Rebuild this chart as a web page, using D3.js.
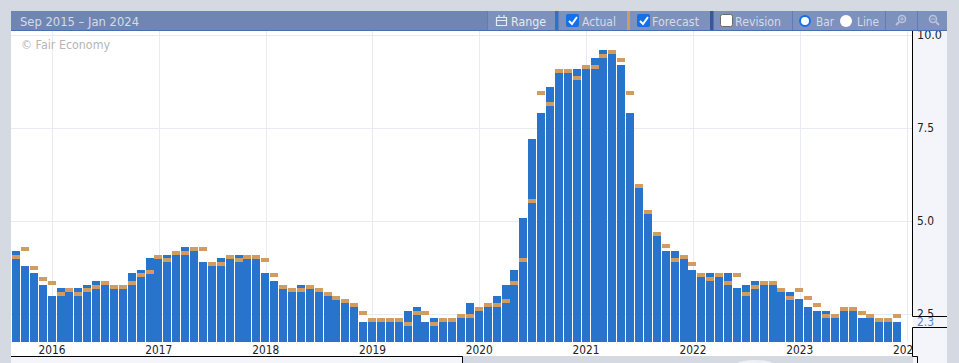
<!DOCTYPE html>
<html>
<head>
<meta charset="utf-8">
<script src="https://cdn.jsdelivr.net/npm/d3@7"></script>
<style>
  html, body { margin: 0; padding: 0; background: #d5d9e2; overflow: hidden; }
  svg { display: block; }
  text { font-family: "DejaVu Sans", sans-serif; font-size: 12px; }
</style>
</head>
<body>
<div id="chart"></div>
<script>
// monthly values, Sep 2015 to Dec 2023
const actual = [4.2,3.8,3.6,3.3,3.0,3.2,3.1,3.2,3.3,3.4,3.3,3.2,3.2,3.6,3.7,4.0,
  4.0,4.1,4.1,4.3,4.2,3.9,3.8,4.0,4.0,4.1,4.0,4.0,3.6,3.4,3.2,3.1,3.3,3.2,3.1,3.0,
  2.9,2.8,2.7,2.3,2.3,2.3,2.3,2.3,2.6,2.7,2.3,2.4,2.3,2.3,2.4,2.8,
  2.6,2.7,3.0,3.3,3.7,5.1,7.2,7.9,8.6,9.0,9.0,9.1,9.1,9.4,9.6,9.5,9.2,7.9,5.9,5.2,
  4.6,4.2,4.2,4.0,3.7,3.5,3.6,3.5,3.6,3.2,3.3,3.4,3.3,3.3,3.1,3.1,2.9,2.7,2.6,2.6,
  2.4,2.6,2.6,2.4,2.4,2.3,2.3,2.3];
const forecast = [4.1,4.3,3.8,3.5,3.4,3.1,3.2,3.1,3.2,3.3,3.4,3.3,3.3,3.4,3.6,3.7,
  4.1,4.0,4.2,4.2,4.3,4.3,3.9,3.9,4.1,4.0,4.1,4.1,4.0,3.6,3.3,3.2,3.2,3.3,3.2,3.1,
  3.0,2.9,2.8,2.6,2.4,2.4,2.4,2.4,2.3,2.6,2.6,2.3,2.4,2.4,2.5,2.5,
  2.7,2.8,2.8,2.9,3.4,4.0,5.6,8.5,8.2,9.1,9.1,8.9,9.2,9.2,9.5,9.6,9.4,8.5,6.0,5.3,
  4.7,4.4,4.0,4.1,3.9,3.6,3.5,3.6,3.4,3.6,3.1,3.3,3.4,3.4,3.2,3.0,3.2,3.0,2.8,2.5,
  2.5,2.7,2.7,2.6,2.5,2.4,2.4,2.5];
const yearLabels = [2016,2017,2018,2019,2020,2021,2022,2023,2024];
const yTicks = [10,7.5,5,2.5];
const latest = 2.3;
const months = d3.utcMonth.range(new Date(Date.UTC(2015,8,1)), new Date(Date.UTC(2024,1,1)));

const width = 959, height = 363;
const blue = "#2874cc", orange = "#d29b5f", grid = "#e8ebf3", panel = "#f3f5fa";

const x = d3.scaleBand().domain(months.map(d => +d)).range([12, 911]);
const y = d3.scaleLinear().domain([1.755, 10]).range([342, 35.3]);
const xc = d => x(+d) + x.bandwidth() / 2;

const svg = d3.select("#chart").append("svg").attr("width", width).attr("height", height);

// page frame
svg.append("rect").attr("width", width).attr("height", height).attr("fill", "#d5d9e2");
svg.append("rect").attr("x", 11).attr("y", 11).attr("width", 902).attr("height", 345).attr("fill", "white");
svg.append("rect").attr("x", 913).attr("y", 31).attr("width", 34).attr("height", 332).attr("fill", panel);
svg.append("rect").attr("x", 11).attr("y", 357).attr("width", 451).attr("height", 6).attr("fill", panel);
svg.append("ellipse").attr("cx", 755).attr("cy", 364).attr("rx", 18).attr("ry", 4).attr("fill", "#eef0f5");

svg.append("defs").append("clipPath").attr("id", "plot")
  .append("rect").attr("x", 11).attr("y", 31).attr("width", 901).attr("height", 325);

const plot = svg.append("g").attr("clip-path", "url(#plot)");

// grid
plot.append("g").selectAll("line").data(yTicks).join("line")
  .attr("x1", 11).attr("x2", 912)
  .attr("y1", d => Math.round(y(d)) + 0.5).attr("y2", d => Math.round(y(d)) + 0.5)
  .attr("stroke", grid);
const janDates = yearLabels.map(yr => new Date(Date.UTC(yr, 0, 1)));
plot.append("g").selectAll("line").data(janDates).join("line")
  .attr("x1", d => Math.round(xc(d)) + 0.5).attr("x2", d => Math.round(xc(d)) + 0.5)
  .attr("y1", 31).attr("y2", 342)
  .attr("stroke", grid);

// bars
plot.append("g").selectAll("rect").data(actual).join("rect")
  .attr("x", (d, i) => Math.round(x(+months[i])))
  .attr("width", 8)
  .attr("y", d => Math.round(y(d)))
  .attr("height", d => 342 - Math.round(y(d)))
  .attr("fill", blue);

plot.append("g").selectAll("rect").data(forecast).join("rect")
  .attr("x", (d, i) => Math.round(x(+months[i])))
  .attr("width", 8)
  .attr("y", d => Math.round(y(d)))
  .attr("height", 4)
  .attr("fill", orange);

// year labels
plot.append("g").selectAll("text").data(janDates).join("text")
  .attr("x", d => xc(d) - 13.5).attr("y", 353.5)
  .attr("textLength", 27).attr("lengthAdjust", "spacingAndGlyphs")
  .attr("fill", "#222")
  .text((d, i) => yearLabels[i]);

plot.append("text").attr("x", 21).attr("y", 48.5).attr("fill", "#b5b5b5")
  .attr("textLength", 89).attr("lengthAdjust", "spacingAndGlyphs").text("© Fair Economy");

// right axis
const axis = svg.append("g");
axis.selectAll("text.tick").data(yTicks).join("text")
  .attr("class", "tick")
  .attr("x", 917).attr("y", d => y(d) + 4)
  .attr("textLength", d => d === 10 ? 25 : 17).attr("lengthAdjust", "spacingAndGlyphs")
  .attr("fill", "#222")
  .text(d => d.toFixed(1));
axis.append("rect").attr("x", 913).attr("y", 317).attr("width", 34).attr("height", 10).attr("fill", panel);
axis.append("text").attr("x", 917).attr("y", y(latest) + 4.5)
  .attr("textLength", 17).attr("lengthAdjust", "spacingAndGlyphs")
  .attr("fill", "#4a86d8").text(latest.toFixed(1));
axis.append("path")
  .attr("fill", "none").attr("stroke", "black")
  .attr("d", "M912.5,31V316.5H947M947,327.5H912.5V356.5H917.5V363M11,356.5H462.5V363");

// header bar
const head = svg.append("g");
head.append("rect").attr("x", 11).attr("y", 11).attr("width", 936).attr("height", 19).attr("fill", "#7086b2");
head.append("rect").attr("x", 487).attr("y", 11).attr("width", 460).attr("height", 19).attr("fill", "#7c91bc");
head.append("rect").attr("x", 11).attr("y", 30).attr("width", 936).attr("height", 1).attr("fill", "#4a6fb0");
head.append("text").attr("x", 20).attr("y", 25.5).attr("fill", "#d5dbe8")
  .attr("textLength", 119).attr("lengthAdjust", "spacingAndGlyphs").text("Sep 2015 – Jan 2024");

const seps = [487, 792, 885, 917];
head.selectAll("line.sep").data(seps).join("line")
  .attr("class", "sep")
  .attr("x1", d => d + 0.5).attr("x2", d => d + 0.5).attr("y1", 11).attr("y2", 30)
  .attr("stroke", "#5f7cb4");

const swatches = [[555, blue], [627, orange], [710, "#37599a"]];
head.selectAll("rect.sw").data(swatches).join("rect")
  .attr("class", "sw")
  .attr("x", d => d[0]).attr("y", 11).attr("width", d => d[1] === orange ? 3 : 3.5).attr("height", 19)
  .attr("fill", d => d[1]);

const labels = [["Range", 511, 35, "#e6eaf3"], ["Actual", 582, 34, "#d5dbe8"], ["Forecast", 652, 47, "#d5dbe8"],
  ["Revision", 735, 46, "#d5dbe8"], ["Bar", 816, 18, "#d5dbe8"], ["Line", 857, 22, "#d5dbe8"]];
head.selectAll("text.lab").data(labels).join("text")
  .attr("class", "lab")
  .attr("x", d => d[1]).attr("y", 25.5).attr("textLength", d => d[2]).attr("lengthAdjust", "spacingAndGlyphs").attr("fill", d => d[3])
  .text(d => d[0]);

// checkboxes
[566, 637].forEach(cx => {
  head.append("rect").attr("x", cx).attr("y", 14).attr("width", 13).attr("height", 13).attr("rx", 2).attr("fill", "#1470e8");
  head.append("path").attr("d", `M${cx + 3},21l3,3l5,-7`).attr("fill", "none").attr("stroke", "white").attr("stroke-width", 2);
});
head.append("rect").attr("x", 720.5).attr("y", 14.5).attr("width", 12).attr("height", 12).attr("rx", 2)
  .attr("fill", "white").attr("stroke", "#6a6a6a");

// radios
head.append("circle").attr("cx", 805).attr("cy", 21).attr("r", 5).attr("fill", "white").attr("stroke", "#1470e8").attr("stroke-width", 2);
head.append("circle").attr("cx", 846).attr("cy", 21).attr("r", 6).attr("fill", "white");

// range icon
head.append("path").attr("fill", "none").attr("stroke", "#e6eaf3").attr("stroke-width", 1.2)
  .attr("d", "M496.5,17.5h10v8h-10zM496.5,20.5h10M499,15v2M504,15v2");

// zoom icons
[[902, true], [933, false]].forEach(([cx, plus]) => {
  head.append("circle").attr("cx", cx).attr("cy", 19).attr("r", 3.5).attr("fill", "none").attr("stroke", "#b9c4dc").attr("stroke-width", 1.6);
  head.append("path").attr("stroke", "#b9c4dc").attr("stroke-width", 2).attr("d", `M${cx + (plus ? -3 : 3)},22l${plus ? -3 : 3},3`);
  head.append("path").attr("stroke", "#b9c4dc").attr("stroke-width", 1).attr("d", plus ? `M${cx - 2},19h4M${cx},17v4` : `M${cx - 2},19h4`);
});
</script>
</body>
</html>
